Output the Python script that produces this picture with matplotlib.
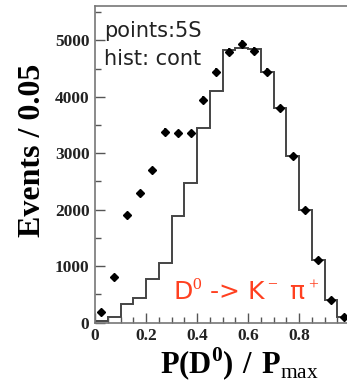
import numpy as np
import matplotlib
matplotlib.use("Agg")
import matplotlib.pyplot as plt
from matplotlib.ticker import MultipleLocator

# bin centers of P(D0)/Pmax, width 0.05
x_centers = np.arange(0.025, 1.0, 0.05)
bin_edges = np.arange(0.0, 1.0001, 0.05)

# 5S points and continuum histogram
points_5s = [180, 800, 1910, 2300, 2700, 3380, 3360, 3360, 3950, 4440,
             4800, 4940, 4820, 4440, 3800, 2950, 2000, 1100, 390, 100]
hist_cont = [20, 90, 320, 430, 775, 1050, 1880, 2480, 3450, 4100,
             4830, 4860, 4840, 4440, 3800, 2950, 2000, 1100, 390, 100]

x_ticks = [0, 0.2, 0.4, 0.6, 0.8]
x_ticklabels = ["0", "0.2", "0.4", "0.6", "0.8"]
y_ticks = [0, 1000, 2000, 3000, 4000, 5000]

plt.rcParams['mathtext.fontset'] = 'custom'
plt.rcParams['mathtext.rm'] = 'Liberation Serif'
plt.rcParams['mathtext.bf'] = 'Liberation Serif:bold'

fig = plt.figure(figsize=(3.47, 3.86), dpi=100)
ax = fig.add_axes([0.2738, 0.1645, 0.735, 0.8187])

# continuum histogram as a step outline
ax.stairs(hist_cont, bin_edges, color='#444444', linewidth=1.4)

# 5S data points
pts = np.array(points_5s)
ax.errorbar(x_centers, pts, xerr=0.012, yerr=np.sqrt(pts), fmt='D',
            color='black', markersize=3.8, elinewidth=1.2, capsize=0)

ax.set_xlim(0, 1.0)
ax.set_ylim(0, 5600)

ax.set_xticks(x_ticks)
ax.set_xticklabels(x_ticklabels)
ax.set_yticks(y_ticks)
ax.xaxis.set_minor_locator(MultipleLocator(0.05))
ax.yaxis.set_minor_locator(MultipleLocator(500))
ax.tick_params(which='both', direction='in', colors='#555555',
               labelcolor='#222222', top=False, right=False)
ax.tick_params(which='major', length=7, width=1)
ax.tick_params(which='minor', length=4, width=1)
ax.tick_params(axis='x', pad=4)
ax.tick_params(axis='y', pad=4)
for lab in ax.get_xticklabels() + ax.get_yticklabels():
    lab.set_fontfamily('Liberation Serif')
    lab.set_fontweight('bold')
    lab.set_fontsize(12.5)

for s in ax.spines.values():
    s.set_color('#777777')
    s.set_linewidth(1.2)

ax.set_ylabel('Events / 0.05', fontfamily='Liberation Serif',
              fontweight='bold', fontsize=23, va='center')
ax.yaxis.set_label_coords(-0.245, 0.546)
ax.set_xlabel(r'$\mathbf{P(D}^{\mathbf{0}}\mathbf{)\ /\ P}_{\mathrm{max}}$',
              fontsize=22, va='baseline')
ax.xaxis.set_label_coords(0.565, -0.163)

ax.text(0.035, 5066, 'points:5S', fontfamily='DejaVu Sans', fontsize=15,
        color='#222222', transform=ax.get_yaxis_transform())
ax.text(0.035, 4569, 'hist: cont', fontfamily='DejaVu Sans', fontsize=15,
        color='#222222', transform=ax.get_yaxis_transform())

ax.text(0.306, 400, 'D$^0$ -> K$^-$ π$^+$', fontfamily='DejaVu Sans',
        fontsize=18, color='#ff4020', transform=ax.get_yaxis_transform())

fig.savefig('out.png', dpi=100)
